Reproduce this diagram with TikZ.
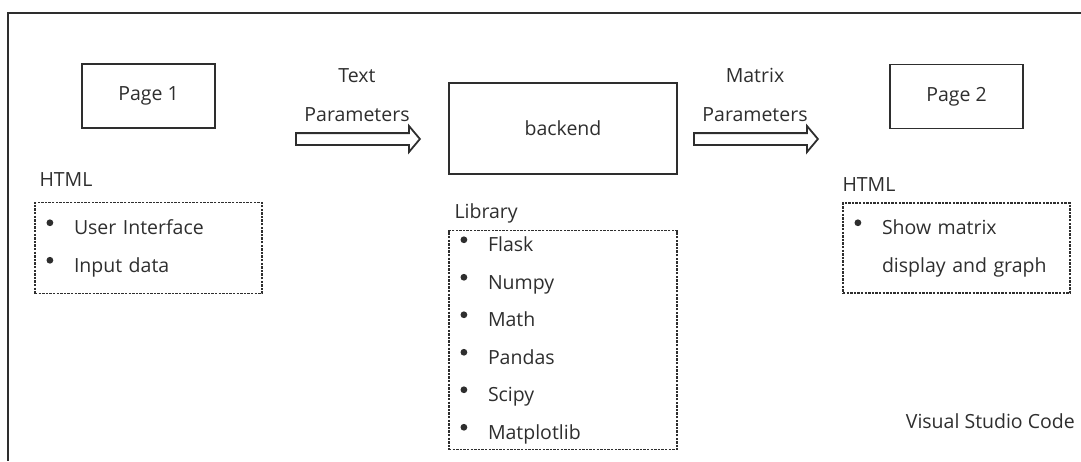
\documentclass[tikz,border=0pt]{standalone}
\usepackage{fontspec}
\setmainfont{Open Sans}
\usepackage{tikz}
\usetikzlibrary{positioning,shapes.arrows}
\definecolor{ink}{HTML}{2E2E2E}
\newcommand{\itm}[1]{\makebox[29pt][l]{\hspace{1.5pt}\raisebox{8.5pt}{\tikz\fill[ink] (0,0) circle (3.4pt);}}#1}
\newcommand{\gap}{\makebox[29pt]{}}
\tikzset{
  pagebox/.style={draw=ink, line width=1.8pt, text=ink, minimum width=133pt, minimum height=64pt, font=\fontsize{19.5}{23}\selectfont},
  listbox/.style={draw=ink, line width=1.4pt, dash pattern=on 2.4pt off 1.2pt, text=ink, align=left, text width=207pt, inner xsep=10pt, font=\fontsize{19.5}{37.5}\selectfont},
  fatarrow/.style={draw=ink, line width=1.8pt, single arrow, single arrow head extend=7pt, single arrow tip angle=100, minimum height=124pt, inner xsep=0pt, inner ysep=5pt},
  lbl/.style={inner sep=0pt, text=ink, font=\fontsize{19.5}{39}\selectfont}
}

\begin{document}
\begin{tikzpicture}[x=1pt, y=-1pt]
  \useasboundingbox (0,0) rectangle (1081,461);
  \draw[ink, line width=1.8pt] (1081,13) -- (8,13) -- (8,461);

  \node[pagebox] (page1) at (148.5,96) {Page 1};
  \node[pagebox, minimum width=228pt, minimum height=91pt] (backend) at (563,128.5) {backend};
  \node[pagebox] (page2) at (956.5,96.5) {Page 2};

  \node[fatarrow, anchor=tail] (argsA) at (295,139) {};
  \node[fatarrow, anchor=tail] (argsB) at (693,139) {};
  \node[lbl, align=center, anchor=south] (argsAtext) at (357,122) {Text\\Parameters};
  \node[lbl, align=center, anchor=south] (argsBtext) at (755,122) {Matrix\\Parameters};

  \node[listbox, minimum height=91pt, below=73pt of page1] (listA) {\itm{User Interface}\\\itm{Input data}};
  \node[listbox, text width=208pt, minimum height=219pt, below=55pt of backend] (listB)
    {\itm{Flask}\\\itm{Numpy}\\\itm{Math}\\\itm{Pandas}\\\itm{Scipy}\\\itm{Matplotlib}};
  \node[listbox, minimum height=90pt, below=73pt of page2] (listC) {\itm{Show matrix}\\\gap display and graph};

  \node[lbl, above right=15pt and 5pt of listA.north west, anchor=base west] (htmlA) {HTML};
  \node[lbl, above right=11pt and 6pt of listB.north west, anchor=base west] (libB) {Library};
  \node[lbl, above right=11pt and 0pt of listC.north west, anchor=base west] (htmlC) {HTML};
  \node[lbl, anchor=base east] (vscode) at (1075,428) {Visual Studio Code};
\end{tikzpicture}
\end{document}
